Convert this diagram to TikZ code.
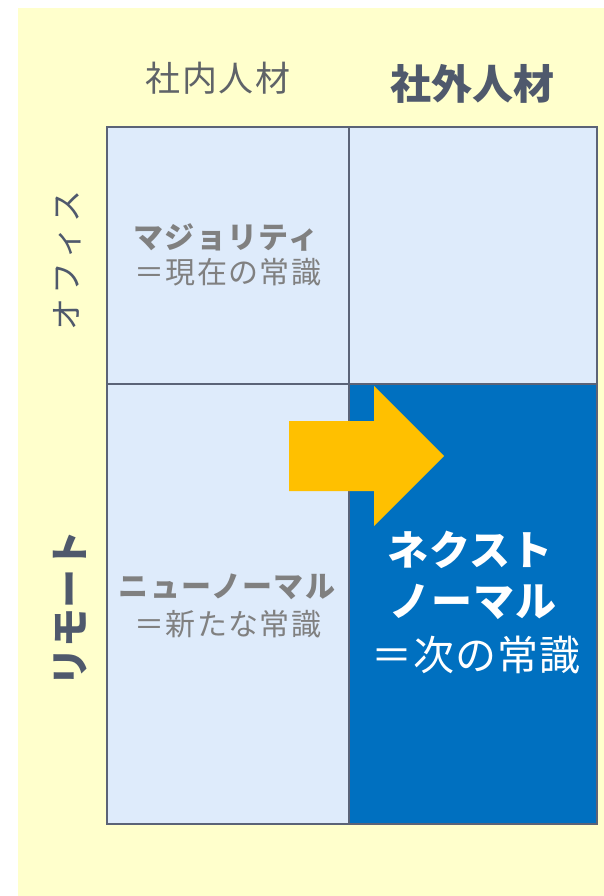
\documentclass[tikz,border=0pt]{standalone}
\usepackage{fontspec}
\newfontfamily\cjk{Noto Sans CJK JP}
\newfontfamily\cjksp[LetterSpace=4.5]{Noto Sans CJK JP}
\newfontfamily\cjkspb[LetterSpace=2.5]{Noto Sans CJK JP}
\definecolor{bgyellow}{HTML}{FFFFCC}
\definecolor{cellblue}{HTML}{DEEBFB}
\definecolor{darkblue}{HTML}{0070C0}
\definecolor{gridline}{HTML}{5B6377}
\definecolor{arrowyellow}{HTML}{FFC000}
\definecolor{graytext}{HTML}{808080}
\definecolor{slatetext}{HTML}{4F596C}
\definecolor{headgray}{HTML}{5F6368}
\tikzset{
  cell/.style={draw=gridline, line width=2.2pt, anchor=north west, inner sep=0pt, outer sep=0pt},
  celltext/.style={font=\cjksp\fontsize{30}{34}\selectfont, text=graytext, inner sep=0pt},
  celltextb/.style={font=\cjksp\bfseries\fontsize{30}{34}\selectfont, text=graytext, inner sep=0pt},
  bluetext/.style={font=\cjkspb\fontsize{41}{46}\selectfont, text=white, inner sep=0pt},
  bluetextb/.style={font=\cjkspb\bfseries\fontsize{41}{46}\selectfont, text=white, inner sep=0pt},
}
\begin{document}
\begin{tikzpicture}[x=1pt,y=-1pt]
\useasboundingbox (0,0) rectangle (604,896);
\fill[bgyellow] (18,8) rectangle (604,896);
% cells
\node[cell, fill=cellblue, minimum width=242pt, minimum height=257pt] (c11) at (107,127) {};
\node[cell, fill=cellblue, minimum width=248pt, minimum height=257pt] (c12) at (349,127) {};
\node[cell, fill=cellblue, minimum width=242pt, minimum height=440pt] (c21) at (107,384) {};
\node[cell, fill=darkblue, minimum width=248pt, minimum height=440pt] (c22) at (349,384) {};
% arrow
\fill[arrowyellow] (289,421) -- (374,421) -- (374,386) -- (444,456) -- (374,526) -- (374,491) -- (289,491) -- cycle;
% headers
\node[font=\cjksp\fontsize{35}{40}\selectfont, text=headgray, inner sep=0pt] (h1) at (218,78) {社内人材};
\node[font=\cjk\bfseries\fontsize{41}{46}\selectfont, text=slatetext, inner sep=0pt] (h2) at (472,84) {社外人材};
\node[font=\cjk\fontsize{32}{38}\selectfont, text=slatetext, rotate=90, inner sep=0pt] (v1) at (67,260) {オ\hspace{4pt}フ\hspace{4pt}ィ\hspace{4pt}ス};
\node[font=\cjk\bfseries\fontsize{39}{44}\selectfont, text=slatetext, rotate=90, inner sep=0pt] (v2) at (70,608) {リモート};
% cell texts
\node[celltextb] (t1a) at (226,237) {マジョリティ};
\node[celltext] (t1b) at (228,272) {＝現在の常識};
\node[celltextb] (t2a) at (227,587) {ニューノーマル};
\node[celltext] (t2b) at (228,624) {＝新たな常識};
\node[bluetextb] (t3a) at (470,550) {ネクスト};
\node[bluetextb] (t3b) at (473,602) {ノーマル};
\node[bluetext] (t3c) at (476,655) {＝次の常識};
\end{tikzpicture}
\end{document}
